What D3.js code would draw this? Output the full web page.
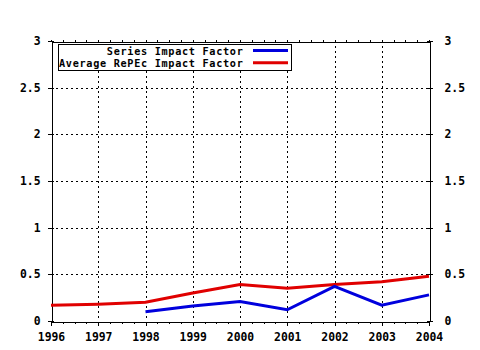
<!DOCTYPE html>
<html>
<head>
<meta charset="utf-8">
<script src="https://cdn.jsdelivr.net/npm/d3@7"></script>
<style>
  html, body { margin: 0; padding: 0; background: #fff; }
  svg { display: block; }
  text { font-family: "DejaVu Sans Mono", monospace; font-weight: bold; font-size: 11.4px; fill: #000; }
  .legend text { font-size: 10.2px; letter-spacing: 0.7px; }
</style>
</head>
<body>
<svg id="chart" width="480" height="350"></svg>
<script>
const years = [1996, 1997, 1998, 1999, 2000, 2001, 2002, 2003, 2004];
const seriesYears = [1998, 1999, 2000, 2001, 2002, 2003, 2004];
const seriesIF = [0.10, 0.16, 0.21, 0.12, 0.37, 0.17, 0.28];
const avgIF = [0.17, 0.18, 0.20, 0.30, 0.39, 0.35, 0.39, 0.42, 0.48];
const yTicks = [0, 0.5, 1, 1.5, 2, 2.5, 3];
const legendLabels = ["Series Impact Factor", "Average RePEc Impact Factor"];
const colors = ["#0000dd", "#e00000"];

const svg = d3.select("#chart");
const L = 51, R = 429, T = 41, B = 321;
const x = d3.scaleLinear().domain([1996, 2004]).range([L, R]);
const y = d3.scaleLinear().domain([0, 3]).range([B, T]);

// grid
const grid = svg.append("g").attr("shape-rendering", "crispEdges")
  .attr("stroke", "#000").attr("stroke-width", 1).attr("stroke-dasharray", "2,3");
grid.selectAll("line.v").data(years.slice(1, -1)).join("line")
  .attr("x1", d => Math.round(x(d)) + 0.5).attr("x2", d => Math.round(x(d)) + 0.5)
  .attr("y1", T).attr("y2", B);
grid.selectAll("line.h").data(yTicks.slice(1, -1)).join("line")
  .attr("y1", d => Math.round(y(d)) + 0.5).attr("y2", d => Math.round(y(d)) + 0.5)
  .attr("x1", L).attr("x2", R);

// minor quarter ticks
const quarters = d3.range(1996, 2004.001, 0.25);
function styleAxis(g) {
  g.attr("shape-rendering", "crispEdges");
  g.selectAll("path, line").attr("stroke", "#000");
  g.selectAll("text").attr("font-family", null).attr("font-size", null).attr("fill", "#000");
}
svg.append("g").attr("transform", `translate(0,${B + 0.5})`)
  .call(d3.axisBottom(x).tickValues(quarters).tickSize(2).tickSizeOuter(0).tickFormat(""))
  .call(styleAxis);
svg.append("g").attr("transform", `translate(0,${T + 0.5})`)
  .call(d3.axisTop(x).tickValues(quarters).tickSize(2).tickSizeOuter(0).tickFormat(""))
  .call(styleAxis);
// major bottom
svg.append("g").attr("transform", `translate(0,${B + 0.5})`)
  .call(d3.axisBottom(x).tickValues(years).tickSize(4).tickSizeOuter(0).tickPadding(7).tickFormat(d => String(d)))
  .call(styleAxis);
// left / right
svg.append("g").attr("transform", `translate(${L + 0.5},0)`)
  .call(d3.axisLeft(y).tickValues(yTicks).tickSize(4).tickSizeOuter(0).tickPadding(7).tickFormat(d => String(d)))
  .call(styleAxis)
  .call(g => g.selectAll(".tick line").attr("x2", 2).attr("x1", -4));
svg.append("g").attr("transform", `translate(${R + 0.5},0)`)
  .call(d3.axisRight(y).tickValues(yTicks).tickSize(3).tickSizeOuter(0).tickPadding(12).tickFormat(d => String(d)))
  .call(styleAxis)
  .call(g => g.selectAll(".tick line").attr("x1", -3).attr("x2", 3));

// lines
const line = d3.line().x(d => x(d[0])).y(d => y(d[1]));
svg.append("path").datum(years.map((yr, i) => [yr, avgIF[i]]))
  .attr("d", line).attr("fill", "none").attr("stroke", colors[1]).attr("stroke-width", 3);
svg.append("path").datum(seriesYears.map((yr, i) => [yr, seriesIF[i]]))
  .attr("d", line).attr("fill", "none").attr("stroke", colors[0]).attr("stroke-width", 3);

// legend
const lg = svg.append("g").attr("class", "legend");
lg.append("rect").attr("x", 58.5).attr("y", 44.5).attr("width", 233).attr("height", 26)
  .attr("fill", "#fff").attr("stroke", "#000").attr("stroke-width", 1).attr("shape-rendering", "crispEdges");
legendLabels.forEach((lab, i) => {
  const cy = 50.5 + i * 12.2;
  lg.append("text").attr("x", 243.5).attr("y", cy + 4.5).attr("text-anchor", "end").text(lab);
  lg.append("line").attr("x1", 253).attr("x2", 288).attr("y1", cy).attr("y2", cy)
    .attr("stroke", colors[i]).attr("stroke-width", 3);
});
</script>
</body>
</html>
